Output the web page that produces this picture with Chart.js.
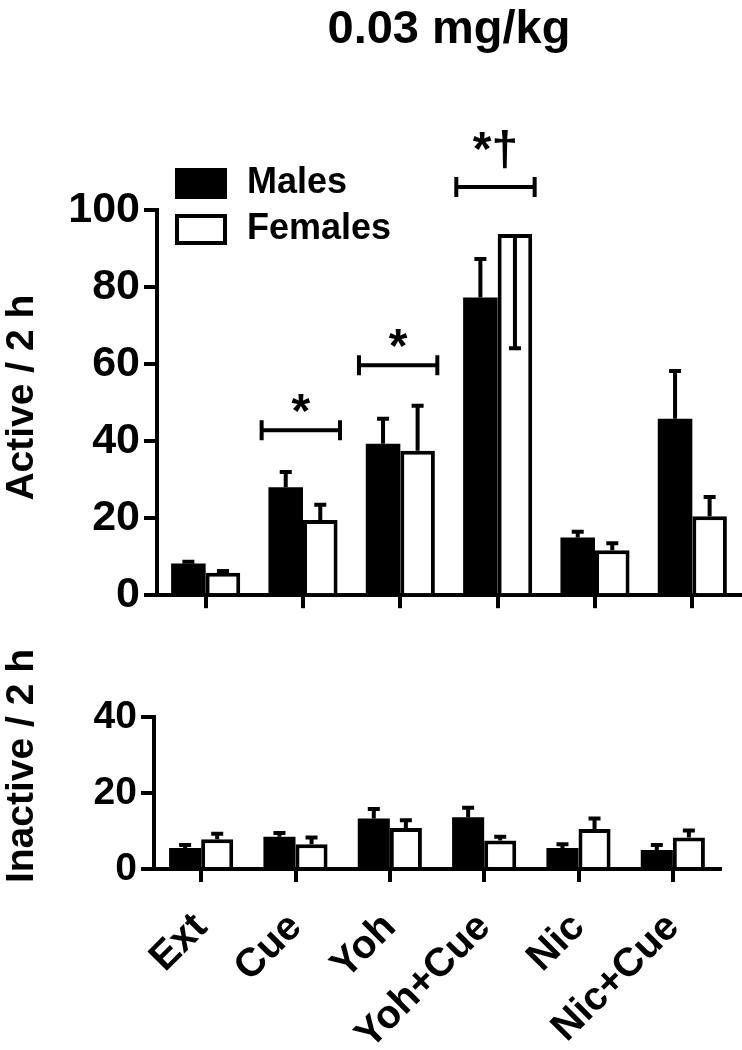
<!DOCTYPE html>
<html>
<head>
<meta charset="utf-8">
<script src="https://cdn.jsdelivr.net/npm/chart.js@4.4.0/dist/chart.umd.min.js"></script>
<style>
  html, body { margin: 0; padding: 0; background: #fff; }
  #wrap { position: relative; width: 742px; height: 1050px; }
  #topBox { position: absolute; left: 0; top: 0; width: 742px; height: 625px; }
  #botBox { position: absolute; left: 0; top: 640px; width: 742px; height: 410px; }
</style>
</head>
<body>
<div id="wrap">
  <div id="topBox"><canvas id="activeChart"></canvas></div>
  <div id="botBox"><canvas id="inactiveChart"></canvas></div>
</div>
<script>
const groups = ['Ext', 'Cue', 'Yoh', 'Yoh+Cue', 'Nic', 'Nic+Cue'];

// active lever presses / 2 h (mean, SEM)
const activeMales = [8.2, 28, 39.3, 77.3, 15, 45.8];
const activeMalesSem = [0.5, 4, 6.5, 10, 1.5, 12.4];
const activeFemales = [5.8, 19.5, 37.5, 93.8, 11.7, 20.5];
const activeFemalesSem = [0.5, 4, 11.7, 29.7, 1.8, 5];

// inactive lever presses / 2 h
const inactiveMales = [5.5, 8.5, 13.3, 13.6, 5.5, 5];
const inactiveMalesSem = [0.8, 1, 2.5, 2.5, 1, 1.3];
const inactiveFemales = [7.8, 6.5, 10.8, 7.5, 10.5, 8.3];
const inactiveFemalesSem = [1.5, 1.8, 2, 1, 2.8, 1.8];

const activeTicks = [0, 20, 40, 60, 80, 100];
const inactiveTicks = [0, 20, 40];

// significance brackets on the active panel
const sigGroups = [1, 2, 3];
const sigHeights = [42.8, 59.7, 106];
const sigLabels = ['*', '*', '*\u2020'];

const fontFamily = '"Liberation Sans", Arial, Helvetica, sans-serif';
function boldFont(size) {
    return { family: fontFamily, size: size, weight: 'bold', lineHeight: 1.2 };
}

const errorBars = {
    id: 'errorBars',
    afterDatasetsDraw(chart) {
        const ctx = chart.ctx;
        const y = chart.scales.y;
        chart.data.datasets.forEach(function(ds, i) {
            chart.getDatasetMeta(i).data.forEach(function(bar, j) {
                const v = ds.data[j], e = ds.sem[j];
                // bar runs off the axis -> error bar is drawn downwards
                const end = v + e > y.max ? v - e : v + e;
                const py = y.getPixelForValue(end);
                ctx.save();
                ctx.strokeStyle = '#000';
                ctx.lineWidth = 4;
                ctx.beginPath();
                ctx.moveTo(bar.x, bar.y);
                ctx.lineTo(bar.x, py);
                ctx.moveTo(bar.x - 6, py);
                ctx.lineTo(bar.x + 6, py);
                ctx.stroke();
                ctx.restore();
            });
        });
    }
};

const boxLegend = {
    id: 'boxLegend',
    afterDraw(chart, args, opts) {
        if (!opts.show) return;
        const ctx = chart.ctx, a = chart.chartArea;
        ctx.save();
        ctx.font = 'bold 36px ' + fontFamily;
        ctx.textBaseline = 'middle';
        chart.data.datasets.forEach(function(ds, i) {
            const x = a.left + 20, y = a.top - 40 + i * 46;
            ctx.fillStyle = ds.backgroundColor;
            ctx.fillRect(x, y, 48, 27);
            ctx.lineWidth = 4;
            ctx.strokeStyle = '#000';
            ctx.strokeRect(x, y, 48, 27);
            ctx.fillStyle = '#000';
            ctx.fillText(ds.label, a.left + 90, y + 13);
        });
        ctx.restore();
    }
};

const sigBrackets = {
    id: 'sigBrackets',
    afterDraw(chart, args, opts) {
        if (!opts.show) return;
        const ctx = chart.ctx, x = chart.scales.x, y = chart.scales.y;
        const half = x.width / groups.length / 2;
        ctx.save();
        ctx.strokeStyle = '#000';
        ctx.fillStyle = '#000';
        ctx.lineWidth = 4;
        ctx.font = 'bold 48px ' + fontFamily;
        ctx.textAlign = 'center';
        ctx.textBaseline = 'alphabetic';
        sigGroups.forEach(function(g, k) {
            const cx = x.getPixelForValue(g);
            const x0 = cx - half * 0.85, x1 = cx + half * 0.76;
            const py = y.getPixelForValue(sigHeights[k]);
            ctx.beginPath();
            ctx.moveTo(x0, py); ctx.lineTo(x1, py);
            ctx.moveTo(x0, py - 10); ctx.lineTo(x0, py + 10);
            ctx.moveTo(x1, py - 10); ctx.lineTo(x1, py + 10);
            ctx.stroke();
            const lift = sigLabels[k].length > 1 ? 22 : 3;
            ctx.fillText(sigLabels[k], (x0 + x1) / 2, py - lift);
        });
        ctx.restore();
    }
};

// y-axis titles drawn by hand so they can sit off-centre like the original
const sideTitle = {
    id: 'sideTitle',
    afterDraw(chart, args, opts) {
        const ctx = chart.ctx, a = chart.chartArea;
        ctx.save();
        ctx.translate(33, (a.top + a.bottom) / 2 + opts.shift);
        ctx.rotate(-Math.PI / 2);
        ctx.font = 'bold 39px ' + fontFamily;
        ctx.fillStyle = '#000';
        ctx.textAlign = 'center';
        ctx.textBaseline = 'alphabetic';
        ctx.fillText(opts.text, 0, 0);
        ctx.restore();
    }
};

function makeChart(id, males, malesSem, females, femalesSem, yMax, yTicks, o) {
    return new Chart(document.getElementById(id), {
        type: 'bar',
        data: {
            labels: groups,
            datasets: [{
                label: 'Males',
                data: males,
                sem: malesSem,
                backgroundColor: '#000',
                borderColor: '#000',
                borderWidth: 0
            }, {
                label: 'Females',
                data: females,
                sem: femalesSem,
                backgroundColor: '#fff',
                borderColor: '#000',
                borderWidth: 4
            }]
        },
        options: {
            responsive: true,
            maintainAspectRatio: false,
            animation: false,
            categoryPercentage: o.catPct,
            barPercentage: 1,
            layout: { padding: o.padding },
            plugins: {
                legend: { display: false },
                tooltip: { enabled: false },
                title: o.title,
                boxLegend: { show: o.legend },
                sigBrackets: { show: o.legend },
                sideTitle: { text: o.yTitle, shift: o.yTitleShift }
            },
            scales: {
                x: {
                    z: 1,
                    grid: {
                        display: true, drawOnChartArea: false, drawTicks: true,
                        tickLength: 13, lineWidth: 4, color: '#000', offset: false
                    },
                    border: { display: true, width: 4, color: '#000' },
                    ticks: {
                        display: o.xLabels, color: '#000', font: boldFont(40),
                        minRotation: 45, maxRotation: 45, autoSkip: false, padding: 22
                    },
                    afterFit: function(s) { s.height = o.xHeight; }
                },
                y: {
                    z: 1,
                    min: 0,
                    max: yMax,
                    afterBuildTicks: function(s) {
                        s.ticks = yTicks.map(function(v) { return { value: v }; });
                    },
                    grid: {
                        drawOnChartArea: false, drawTicks: true,
                        tickLength: 13, lineWidth: 4, color: '#000'
                    },
                    border: { display: true, width: 4, color: '#000' },
                    ticks: { color: '#000', font: boldFont(o.tickSize), padding: 4 },
                    afterFit: function(s) { s.width = o.yWidth; }
                }
            }
        },
        plugins: [errorBars, boxLegend, sigBrackets, sideTitle]
    });
}

makeChart('activeChart', activeMales, activeMalesSem, activeFemales, activeFemalesSem, 100, activeTicks, {
    catPct: 0.71,
    padding: { left: 0, right: 1, top: 0, bottom: 0 },
    title: {
        display: true, text: '0.03 mg/kg', color: '#000', font: boldFont(47),
        fullSize: false, padding: { top: 2, bottom: 151.6 }
    },
    legend: true,
    yTitle: 'Active / 2 h',
    yTitleShift: -5,
    xLabels: false,
    xHeight: 25,
    yWidth: 157,
    tickSize: 43
});

makeChart('inactiveChart', inactiveMales, inactiveMalesSem, inactiveFemales, inactiveFemalesSem, 40, inactiveTicks, {
    catPct: 0.68,
    padding: { left: 0, right: 22, top: 77, bottom: 0 },
    title: { display: false },
    legend: false,
    yTitle: 'Inactive / 2 h',
    yTitleShift: -27,
    xLabels: true,
    xHeight: 181,
    yWidth: 154,
    tickSize: 39
});
</script>
</body>
</html>
